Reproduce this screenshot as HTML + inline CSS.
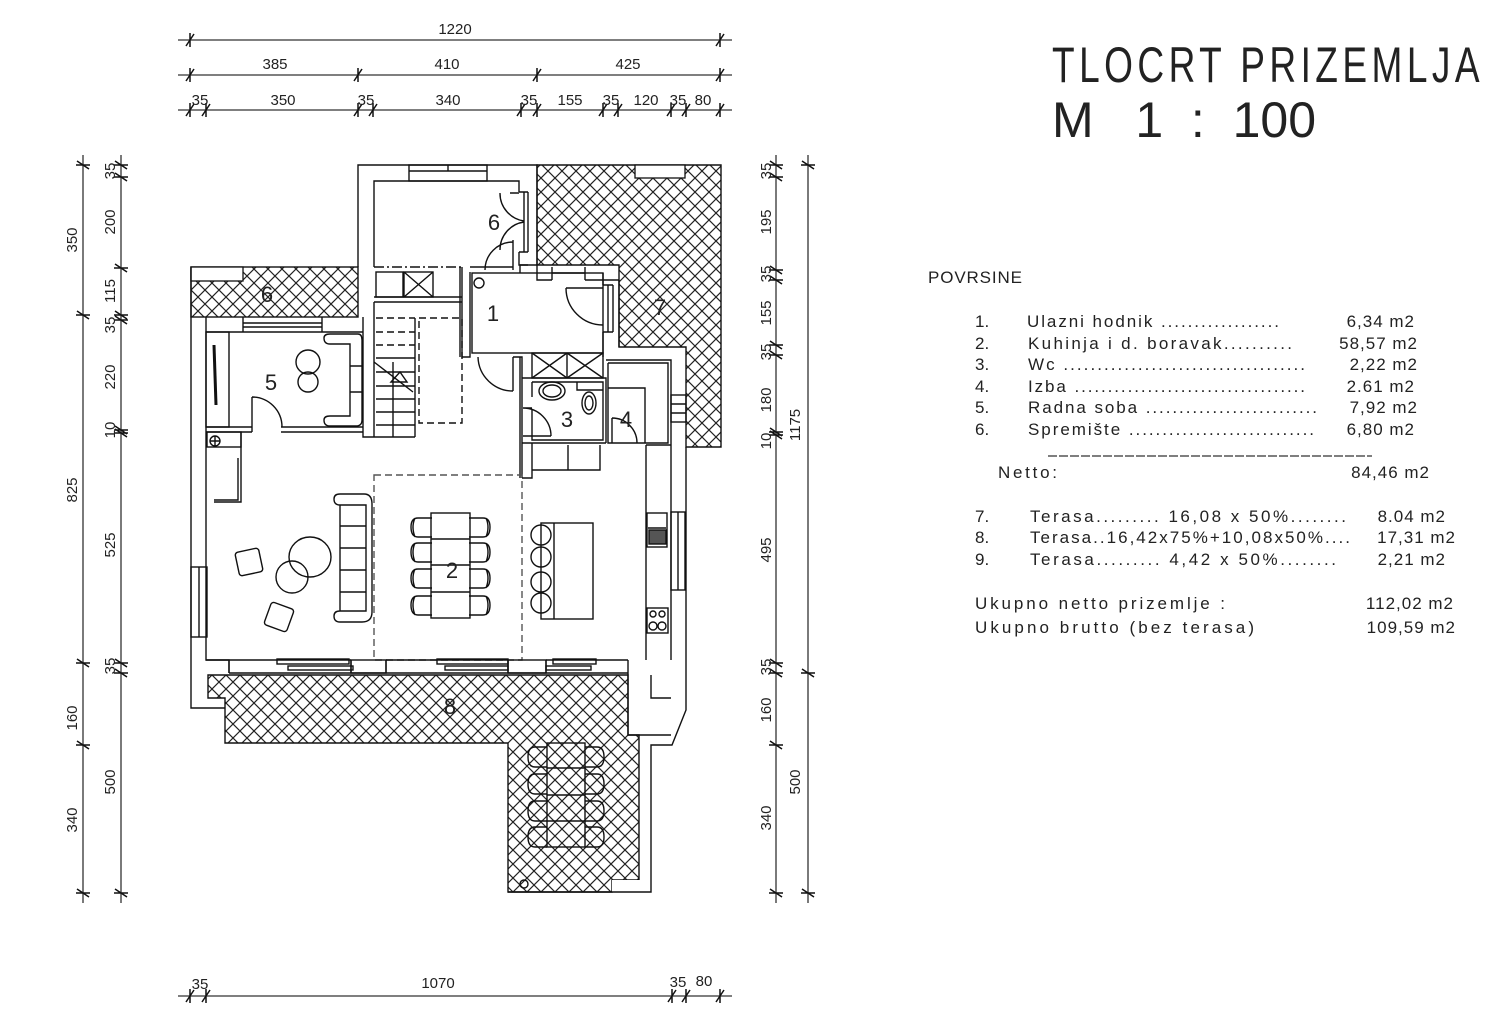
<!DOCTYPE html>
<html><head><meta charset="utf-8"><style>
html,body{margin:0;padding:0;background:#fff}
svg{display:block}
text{font-family:"Liberation Sans",sans-serif;fill:#222}
</style></head><body>
<svg width="1500" height="1015" viewBox="0 0 1500 1015" xmlns="http://www.w3.org/2000/svg">
<defs>
<pattern id="h" width="14" height="14" patternUnits="userSpaceOnUse" patternTransform="translate(2,3)">
<path d="M0,0 L14,14 M14,0 L0,14" stroke="#222" stroke-width="1.2" fill="none"/>
</pattern>
</defs>
<rect width="1500" height="1015" fill="#fff"/>

<!-- ===== DIMENSIONS ===== -->
<g stroke="#333" stroke-width="1.3" fill="none">
<line x1="178" y1="40" x2="732" y2="40"/>
<line x1="178" y1="75" x2="732" y2="75"/>
<line x1="178" y1="110" x2="732" y2="110"/>
<line x1="178" y1="996" x2="732" y2="996"/>
<line x1="83" y1="155" x2="83" y2="903"/>
<line x1="121" y1="155" x2="121" y2="903"/>
<line x1="776" y1="155" x2="776" y2="903"/>
<line x1="808" y1="155" x2="808" y2="903"/>
</g>
<g stroke="#111" stroke-width="1.5">
<path d="M186,46 L194,34 M190,33 V47 M716,46 L724,34 M720,33 V47
M186,81 L194,69 M190,68 V82 M354,81 L362,69 M358,68 V82 M533,81 L541,69 M537,68 V82 M716,81 L724,69 M720,68 V82
M186,116 L194,104 M190,103 V117 M202,116 L210,104 M206,103 V117 M354,116 L362,104 M358,103 V117 M369,116 L377,104 M373,103 V117 M517,116 L525,104 M521,103 V117 M533,116 L541,104 M537,103 V117 M599,116 L607,104 M603,103 V117 M614,116 L622,104 M618,103 V117 M667,116 L675,104 M671,103 V117 M682,116 L690,104 M686,103 V117 M716,116 L724,104 M720,103 V117
M186,1002 L194,990 M190,989 V1003 M202,1002 L210,990 M206,989 V1003 M668,1002 L676,990 M672,989 V1003 M682,1002 L690,990 M686,989 V1003 M716,1002 L724,990 M720,989 V1003"/>
<path d="M77,161 L89,169 M76,165 H90 M77,311 L89,319 M76,315 H90 M77,659 L89,667 M76,663 H90 M77,741 L89,749 M76,745 H90 M77,889 L89,897 M76,893 H90
M115,161 L127,169 M114,165 H128 M115,173 L127,181 M114,177 H128 M115,264 L127,272 M114,268 H128 M115,311 L127,319 M114,315 H128 M115,316 L127,324 M114,320 H128 M115,426 L127,434 M114,430 H128 M115,429 L127,437 M114,433 H128 M115,659 L127,667 M114,663 H128 M115,669 L127,677 M114,673 H128 M115,889 L127,897 M114,893 H128"/>
<path d="M770,161 L782,169 M769,165 H783 M770,173 L782,181 M769,177 H783 M770,266 L782,274 M769,270 H783 M770,276 L782,284 M769,280 H783 M770,341 L782,349 M769,345 H783 M770,351 L782,359 M769,355 H783 M770,428 L782,436 M769,432 H783 M770,431 L782,439 M769,435 H783 M770,659 L782,667 M769,663 H783 M770,669 L782,677 M769,673 H783 M770,741 L782,749 M769,745 H783 M770,889 L782,897 M769,893 H783
M802,161 L814,169 M801,165 H815 M802,669 L814,677 M801,673 H815 M802,889 L814,897 M801,893 H815"/>
</g>
<g font-size="15" text-anchor="middle">
<text x="455" y="34">1220</text>
<text x="275" y="69">385</text><text x="447" y="69">410</text><text x="628" y="69">425</text>
<text x="200" y="105">35</text><text x="283" y="105">350</text><text x="366" y="105">35</text><text x="448" y="105">340</text><text x="529" y="105">35</text><text x="570" y="105">155</text><text x="611" y="105">35</text><text x="646" y="105">120</text><text x="678" y="105">35</text><text x="703" y="105">80</text>
<text x="200" y="989">35</text><text x="438" y="988">1070</text><text x="678" y="987">35</text><text x="704" y="986">80</text>
</g>
<g font-size="15" text-anchor="middle">
<text transform="translate(77,240) rotate(-90)">350</text>
<text transform="translate(77,490) rotate(-90)">825</text>
<text transform="translate(77,718) rotate(-90)">160</text>
<text transform="translate(77,820) rotate(-90)">340</text>
<text transform="translate(115,171) rotate(-90)">35</text>
<text transform="translate(115,222) rotate(-90)">200</text>
<text transform="translate(115,291) rotate(-90)">115</text>
<text transform="translate(115,325) rotate(-90)">35</text>
<text transform="translate(115,377) rotate(-90)">220</text>
<text transform="translate(115,430) rotate(-90)">10</text>
<text transform="translate(115,545) rotate(-90)">525</text>
<text transform="translate(115,666) rotate(-90)">35</text>
<text transform="translate(115,782) rotate(-90)">500</text>
<text transform="translate(771,171) rotate(-90)">35</text>
<text transform="translate(771,222) rotate(-90)">195</text>
<text transform="translate(771,274) rotate(-90)">35</text>
<text transform="translate(771,313) rotate(-90)">155</text>
<text transform="translate(771,352) rotate(-90)">35</text>
<text transform="translate(771,400) rotate(-90)">180</text>
<text transform="translate(771,441) rotate(-90)">10</text>
<text transform="translate(771,550) rotate(-90)">495</text>
<text transform="translate(771,667) rotate(-90)">35</text>
<text transform="translate(771,710) rotate(-90)">160</text>
<text transform="translate(771,818) rotate(-90)">340</text>
<text transform="translate(800,425) rotate(-90)">1175</text>
<text transform="translate(800,782) rotate(-90)">500</text>
</g>

<!-- ===== HATCHED TERRACES ===== -->
<g fill="url(#h)" stroke="#111" stroke-width="1.4">
<path d="M537,165 H721 V447 H686 V347 H619 V265 H537 Z"/>
<rect x="191" y="267" width="167" height="50"/>
<path d="M208,675 H628 V735 H639 V880 H612 V892 H508 V743 H225 V698 H208 Z"/>
</g>
<g fill="#fff" stroke="#111" stroke-width="1.3">
<rect x="635" y="165" width="50" height="13"/>
<rect x="191" y="267" width="52" height="14"/>
<rect x="612" y="880" width="39" height="12" stroke="none"/>
</g>

<!-- ===== WALLS ===== -->
<g fill="none" stroke="#111" stroke-width="1.4">
<path d="M358,267 V165 H537 V265"/>
<path d="M374,267 V181 H519 V192"/>
<path d="M519,252 V265 H528 M524,192 V252 M528,192 V252 M519,192 H528 M519,252 H528"/>
<rect x="409" y="165" width="78" height="16"/><line x1="409" y1="171" x2="487" y2="171"/><line x1="448" y1="165" x2="448" y2="171"/>
<path d="M500,193 A28,28 0 0 0 524,221 M510,193 H519 M500,250 A28,28 0 0 1 524,222"/>
<path d="M513,240 V270 M485,270 A28,28 0 0 1 513,242"/>
<path d="M374,267 H462" stroke-dasharray="10,3,2,3"/>
<rect x="376" y="272" width="27" height="25"/><rect x="404" y="272" width="29" height="25"/>
<path d="M404,272 L433,297 M433,272 L404,297"/>
<path d="M374,297 H462 M374,302 H462"/>
<path d="M363,317 V437 H374 V302 M374,437 H415 M415,318 V437 M374,437 V302"/>
<path d="M376,318 H415 M376,332 H415 M376,345 H415" stroke-dasharray="7,4"/>
<path d="M376,358 H415 M376,372 H415 M376,386 H415 M376,399 H415 M376,412 H415 M376,425 H415 M374,362 L413,392 M393,362 V437"/>
<path d="M391,382 L400,372 L407,382 Z"/>
<rect x="419" y="318" width="43" height="105" stroke-dasharray="7,4"/>
<path d="M462,267 V357 H470 V272 M470,267 H513 M460,267 V357"/>
<rect x="472" y="273" width="131" height="80"/>
<path d="M520,265 H537 M520,265 V273 M537,265 V280 H552 M585,280 H619 M552,267 V280 M585,267 V280 M552,273 H585"/>
<path d="M603,273 V285 M603,332 V357 M608,285 V332 M613,285 V332 M603,285 H613 M603,332 H613 M619,280 V347"/>
<path d="M566,288 H603 M566,288 A37,37 0 0 0 603,325"/>
<circle cx="479" cy="283" r="5"/>
<path d="M513,357 V391 M478,357 A35,35 0 0 0 513,391"/>
<path d="M513,357 H522 V478 M520,357 V478"/>
<rect x="532" y="353" width="71" height="25"/><line x1="567" y1="353" x2="567" y2="378"/>
<path d="M532,353 L567,378 M567,353 L532,378 M567,353 L603,378 M603,353 L567,378"/>
<path d="M522,378 H606 V443 M532,382 H603 V440 H532 V410 M532,382 V397"/>
<path d="M577,382 V390 H603"/>
<ellipse cx="552" cy="391" rx="13" ry="9"/><ellipse cx="552" cy="391" rx="9" ry="6"/>
<ellipse cx="589" cy="403" rx="7" ry="11"/><ellipse cx="589" cy="403" rx="4" ry="7"/>
<path d="M523,408 H532 M523,436 H551 M523,408 A28,28 0 0 1 551,436"/>
<path d="M606,360 H671 V447 M608,363 H668 V443 H608 V363 M608,388 H645 V443"/>
<path d="M612,418 V443 M612,418 A25,25 0 0 1 637,443"/>
<rect x="671" y="395" width="15" height="27"/><path d="M671,404 H686 M671,413 H686"/>
<path d="M686,447 V710 L672,745 H651 V892 H508 M671,447 V660"/>
<rect x="671" y="512" width="14" height="78"/><line x1="678" y1="512" x2="678" y2="590"/>
<path d="M522,443 H606 M522,478 H532 V443 M532,470 H600 V445 M568,445 V470"/>
<path d="M646,445 V660 M646,445 H671"/>
<rect x="647" y="513" width="20" height="34"/><path d="M648,528 H666"/>
<rect x="649" y="530" width="17" height="14" fill="#555"/>
<rect x="647" y="608" width="21" height="25"/>
<circle cx="653" cy="614" r="3"/><circle cx="662" cy="614" r="3"/><circle cx="653" cy="626" r="4"/><circle cx="662" cy="626" r="4"/>
<path d="M191,267 V708 H225 M206,317 V660 H229 V673"/>
<rect x="191" y="567" width="16" height="70"/><line x1="199" y1="567" x2="199" y2="637"/>
<path d="M206,332 H363 M243,317 V332 M322,317 V332 M243,323 H322 M243,327 H322"/>
<rect x="206" y="332" width="23" height="95"/>
<path d="M214,345 L216,405" stroke-width="3"/>
<path d="M206,427 H252 M281,427 H363 M206,432 H252 M281,432 H363 M252,397 V432 M252,397 A30,30 0 0 1 282,427"/>
<path d="M330,334 H358 Q362,334 362,340 V420 Q362,426 356,426 H330 Q324,426 324,420 Q324,416 330,416 H350 V344 H330 Q324,344 324,338 Q324,334 330,334 Z M350,366 H362 M350,392 H362"/>
<circle cx="308" cy="362" r="12"/><circle cx="308" cy="382" r="10"/>
<rect x="207" y="432" width="34" height="15"/><circle cx="215" cy="441" r="5"/><path d="M210,441 H220 M215,436 V446"/>
<path d="M241,432 V502 H214 M238,458 V500 H214"/>
<rect x="374" y="475" width="148" height="185" stroke-dasharray="7,4" stroke="#555"/>
<path d="M206,660 H229 M351,660 V673 M386,660 V673 M508,660 V673 M546,660 V673 M628,660 V673 M229,673 H628 M628,673 V735 H671 M651,675 V698 H671"/>
<rect x="351" y="660" width="35" height="13"/><rect x="508" y="660" width="38" height="13"/>
<path d="M229,660 H351 M386,660 H508 M546,660 H628 M229,660 V673"/>
<rect x="277" y="659" width="72" height="5"/><rect x="288" y="666" width="65" height="4"/>
<rect x="437" y="659" width="71" height="5"/><rect x="445" y="666" width="63" height="4"/>
<rect x="553" y="659" width="43" height="5"/><rect x="546" y="666" width="45" height="4"/>
<path d="M340,494 H364 Q372,494 372,504 V612 Q372,622 362,622 H340 Q334,622 334,616 Q334,611 340,611 V505 Q334,505 334,499 Q334,494 340,494 Z M340,505 H366 V611 H340 M340,526 H366 M340,548 H366 M340,570 H366 M340,592 H366"/>
<ellipse cx="310" cy="557" rx="21" ry="20"/><ellipse cx="292" cy="577" rx="16" ry="16"/>
<rect x="237" y="550" width="24" height="24" rx="3" transform="rotate(-12 249 562)"/>
<rect x="267" y="605" width="24" height="24" rx="3" transform="rotate(20 279 617)"/>
<rect x="431" y="513" width="39" height="105"/><path d="M431,539 H470 M431,565 H470 M431,592 H470"/>
<g id="chL"><path d="M432,518 H418 Q411,518 411,527 Q411,537 418,537 H432 M415,518 Q411,527 415,537"/></g>
<use href="#chL" y="25"/><use href="#chL" y="51"/><use href="#chL" y="78"/>
<g id="chR"><path d="M469,518 H483 Q490,518 490,527 Q490,537 483,537 H469 M486,518 Q490,527 486,537"/></g>
<use href="#chR" y="25"/><use href="#chR" y="51"/><use href="#chR" y="78"/>
<rect x="541" y="523" width="52" height="96"/><line x1="554" y1="523" x2="554" y2="619"/>
<circle cx="541" cy="535" r="10"/><circle cx="541" cy="557" r="10"/><circle cx="541" cy="582" r="10"/><circle cx="541" cy="603" r="10"/>
<rect x="547" y="743" width="38" height="104"/><path d="M547,768 H585 M547,795 H585 M547,821 H585"/>
<g id="oL"><path d="M547,747 H535 Q528,747 528,757 Q528,767 535,767 H547"/></g>
<use href="#oL" y="27"/><use href="#oL" y="54"/><use href="#oL" y="80"/>
<g id="oR"><path d="M585,747 H597 Q604,747 604,757 Q604,767 597,767 H585"/></g>
<use href="#oR" y="27"/><use href="#oR" y="54"/><use href="#oR" y="80"/>
<circle cx="524" cy="884" r="4"/>
</g>

<g font-size="22" text-anchor="middle">
<text x="494" y="230">6</text>
<text x="267" y="302">6</text>
<text x="493" y="321">1</text>
<text x="660" y="315">7</text>
<text x="271" y="390">5</text>
<text x="567" y="427">3</text>
<text x="626" y="427">4</text>
<text x="452" y="578">2</text>
<text x="450" y="714">8</text>
</g>

<!-- ===== TITLE ===== -->
<text x="1052" y="82" font-size="50" textLength="432" lengthAdjust="spacingAndGlyphs" letter-spacing="6">TLOCRT PRIZEMLJA</text>
<text x="1052" y="137" font-size="50" xml:space="preserve">M   1  :  100</text>

<!-- ===== AREA TABLE ===== -->
<g font-size="17" lengthAdjust="spacing">
<text x="928" y="283" textLength="94">POVRSINE</text>
<text x="975" y="327">1.</text><text x="1027" y="327" textLength="252">Ulazni hodnik ..................</text>
<text x="975" y="349">2.</text><text x="1028" y="349" textLength="264">Kuhinja i d. boravak..........</text>
<text x="975" y="370">3.</text><text x="1028" y="370" textLength="277">Wc ....................................</text>
<text x="975" y="392">4.</text><text x="1028" y="392" textLength="277">Izba   ...................................</text>
<text x="975" y="413">5.</text><text x="1028" y="413" textLength="289">Radna soba ..........................</text>
<text x="975" y="435">6.</text><text x="1028" y="435" textLength="286">Spremište ............................</text>
<text x="998" y="478" textLength="59">Netto:</text>
<text x="975" y="522">7.</text><text x="1030" y="522" textLength="316">Terasa......... 16,08 x 50%........</text>
<text x="975" y="543">8.</text><text x="1030" y="543" textLength="320">Terasa..16,42x75%+10,08x50%....</text>
<text x="975" y="565">9.</text><text x="1030" y="565" textLength="306">Terasa......... 4,42 x 50%........</text>
<text x="975" y="609" textLength="250">Ukupno netto prizemlje :</text>
<text x="975" y="633" textLength="279">Ukupno brutto (bez terasa)</text>
</g>
<g font-size="17" text-anchor="end" xml:space="preserve" letter-spacing="1">
<text x="1415" y="327">6,34  m2</text>
<text x="1418" y="349">58,57  m2</text>
<text x="1418" y="370">2,22  m2</text>
<text x="1415" y="392">2.61  m2</text>
<text x="1418" y="413">7,92  m2</text>
<text x="1415" y="435">6,80  m2</text>
<text x="1430" y="478">84,46  m2</text>
<text x="1446" y="522">8.04  m2</text>
<text x="1456" y="543">17,31  m2</text>
<text x="1446" y="565">2,21  m2</text>
<text x="1454" y="609">112,02  m2</text>
<text x="1456" y="633">109,59  m2</text>
</g>
<line x1="1048" y1="456" x2="1372" y2="456" stroke="#333" stroke-width="1.2" stroke-dasharray="9,2"/>
</svg>
</body></html>
